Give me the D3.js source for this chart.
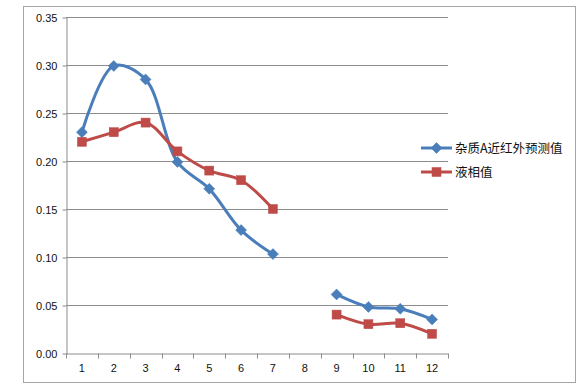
<!DOCTYPE html>
<html><head><meta charset="utf-8">
<script src="https://cdn.jsdelivr.net/npm/d3@7"></script>
<style>body{margin:0;background:#fff}svg{display:block}</style>
</head><body>
<svg id="c" width="581" height="389"></svg>
<script>
const categories = ["1","2","3","4","5","6","7","8","9","10","11","12"];
const seriesNames = ["杂质A近红外预测值","液相值"];
const nirValues = [0.230,0.299,0.285,0.199,0.171,0.128,0.103,null,0.061,0.048,0.046,0.035];
const lcValues  = [0.220,0.230,0.240,0.210,0.190,0.180,0.150,null,0.040,0.030,0.031,0.020];
const yTicks = [0,0.05,0.10,0.15,0.20,0.25,0.30,0.35];

const svg = d3.select("#c");
const font = "'Liberation Sans', Arial, sans-serif";
svg.append("rect").attr("x",23.5).attr("y",6.5).attr("width",552).attr("height",376)
  .attr("fill","#fff").attr("stroke","#a6a6a6");

const x = d3.scaleBand().domain(categories).range([66,448]);
const y = d3.scaleLinear().domain([0,0.35]).range([353,17]);
const grid = "#8c8c8c";

// gridlines
svg.append("g").selectAll("line").data(yTicks.slice(1)).join("line")
  .attr("x1",66).attr("x2",448).attr("y1",d=>Math.round(y(d))+0.5).attr("y2",d=>Math.round(y(d))+0.5)
  .attr("stroke",grid).attr("stroke-width",1);

// y axis
const ya = svg.append("g").attr("transform","translate(66.5,0.5)")
  .call(d3.axisLeft(y).tickValues(yTicks).tickFormat(d3.format(".2f")).tickSizeInner(4).tickSizeOuter(0).tickPadding(5));
ya.select(".domain").attr("stroke",grid);
ya.selectAll(".tick line").attr("stroke",grid);
ya.selectAll("text").attr("font-family",font).attr("font-size",11).attr("fill","#111");

// x axis
const xa = svg.append("g").attr("transform","translate(0,353.5)")
  .call(d3.axisBottom(x).tickSize(0).tickPadding(11));
xa.select(".domain").attr("stroke",grid);
xa.selectAll("text").attr("font-family",font).attr("font-size",11).attr("fill","#111");
const bounds = categories.map(c=>x(c)).concat([x.range()[1]]);
xa.selectAll(".bt").data(bounds).join("line").attr("class","bt")
  .attr("x1",d=>Math.round(d)+0.5).attr("x2",d=>Math.round(d)+0.5).attr("y1",0).attr("y2",5).attr("stroke",grid);

const cx = c => x(c)+x.bandwidth()/2;
const series = [
  {name:seriesNames[0], values:nirValues, color:"#4a7ebb", marker:"diamond"},
  {name:seriesNames[1], values:lcValues, color:"#be4b48", marker:"square"}
];
const line = d3.line().defined(d=>d.v!=null).x(d=>cx(d.c)).y(d=>y(d.v)).curve(d3.curveCatmullRom.alpha(0.5));

function drawMarker(g, type, color, px, py){
  if(type==="diamond"){
    g.append("path").attr("d",`M${px},${py-5.5}L${px+5.5},${py}L${px},${py+5.5}L${px-5.5},${py}Z`).attr("fill",color).attr("stroke",color).attr("stroke-width",0.5);
  } else {
    g.append("rect").attr("x",px-4.5).attr("y",py-4.5).attr("width",9).attr("height",9).attr("fill",color).attr("stroke",color).attr("stroke-width",0.5);
  }
}

series.forEach(s=>{
  const data = categories.map((c,i)=>({c, v:s.values[i]}));
  svg.append("path").datum(data).attr("d",line).attr("fill","none")
    .attr("stroke",s.color).attr("stroke-width",3).attr("stroke-linejoin","round");
  const g = svg.append("g");
  data.filter(d=>d.v!=null).forEach(d=>drawMarker(g,s.marker,s.color,cx(d.c),y(d.v)));
});

// legend
series.forEach((s,i)=>{
  const ly = 148 + i*24;
  svg.append("line").attr("x1",421).attr("x2",452).attr("y1",ly).attr("y2",ly).attr("stroke",s.color).attr("stroke-width",3);
  drawMarker(svg.append("g"), s.marker, s.color, 436.5, ly);
  svg.append("text").attr("x",455).attr("y",ly+4.5).text(s.name)
    .attr("font-family","'Noto Sans CJK SC', sans-serif").attr("font-size",12.5).attr("fill","#111");
});
</script>
</body></html>
